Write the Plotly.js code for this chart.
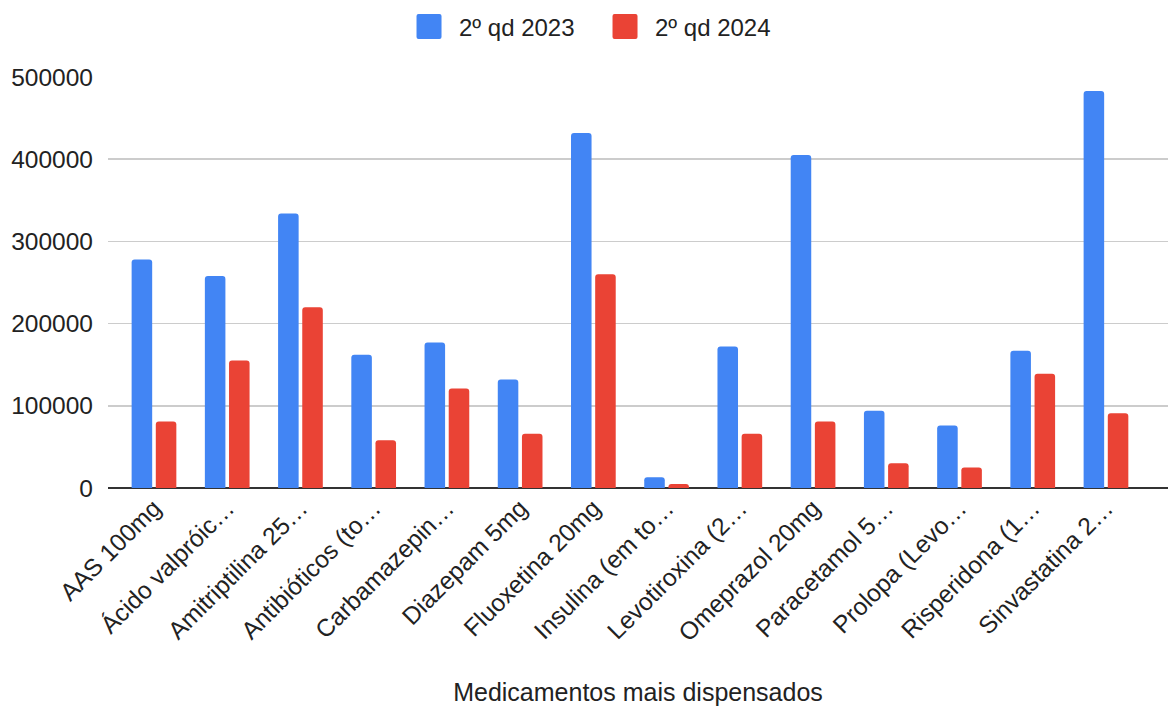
<!DOCTYPE html>
<html>
<head>
<meta charset="utf-8">
<script src="https://cdn.plot.ly/plotly-3.0.1.min.js"></script>
<style>html,body{margin:0;padding:0;background:#fff;}#chart{width:1169px;height:706px;}</style>
</head>
<body>
<div id="chart"></div>
<script>
const categories = [
  "AAS 100mg", "Ácido valpróic…", "Amitriptilina 25…", "Antibióticos (to…",
  "Carbamazepin…", "Diazepam 5mg", "Fluoxetina 20mg", "Insulina (em to…",
  "Levotiroxina (2…", "Omeprazol 20mg", "Paracetamol 5…", "Prolopa (Levo…",
  "Risperidona (1…", "Sinvastatina 2…"
];
const series2023Name = "2º qd 2023";
const series2024Name = "2º qd 2024";
const values2023 = [278000, 258000, 334000, 162000, 177000, 132000, 432000, 13000, 172000, 405000, 94000, 76000, 167000, 483000];
const values2024 = [81000, 155000, 220000, 58000, 121000, 66000, 260000, 5000, 66000, 81000, 30000, 25000, 139000, 91000];
const yTicks = [0, 100000, 200000, 300000, 400000, 500000];

const font = "Arial, 'Liberation Sans', sans-serif";
const data = [
  {type: "bar", name: series2023Name, x: categories, y: values2023,
   marker: {color: "#4285F4", cornerradius: 3}},
  {type: "bar", name: series2024Name, x: categories, y: values2024,
   marker: {color: "#EA4335", cornerradius: 3}}
];
const layout = {
  width: 1169, height: 706,
  margin: {l: 108, r: 1, t: 77, b: 218},
  paper_bgcolor: "#fff", plot_bgcolor: "#fff",
  font: {family: font, size: 24, color: "#222"},
  barmode: "group", bargap: 0.34, bargroupgap: 0.15,
  showlegend: true,
  legend: {orientation: "h", xref: "container", x: 0.509, xanchor: "center",
           yref: "container", y: 0.962, yanchor: "middle",
           font: {size: 24, color: "#222"}, itemwidth: 50, tracegroupgap: 0,
           entrywidth: 131, entrywidthmode: "pixels"},
  xaxis: {
    type: "category", range: [-0.628, 13.847],
    tickangle: -45, ticks: "", showgrid: false, automargin: false,
    tickfont: {size: 24.5, color: "#222"},
    title: {text: "Medicamentos mais dispensados", font: {size: 25, color: "#222"}, standoff: 40}
  },
  yaxis: {
    range: [0, 500000], tickvals: yTicks, ticktext: yTicks.map(String),
    showgrid: true, gridcolor: "#cccccc", gridwidth: 1.5,
    zeroline: true, zerolinecolor: "#333", zerolinewidth: 2,
    ticks: "", ticklabelstandoff: 14, automargin: false,
    tickfont: {size: 24.5, color: "#222"}
  }
};
Plotly.newPlot("chart", data, layout, {displayModeBar: false, staticPlot: true}).then(function (gd) {
  // enlarge the legend swatches to match the reference's large squares
  gd.querySelectorAll(".legend .legendpoints path").forEach(function (p) {
    p.setAttribute("d", "M12.5,10.5Q12.5,12.5 10.5,12.5H-10.5Q-12.5,12.5 -12.5,10.5V-10.5Q-12.5,-12.5 -10.5,-12.5H10.5Q12.5,-12.5 12.5,-10.5Z");
  });
});
</script>
</body>
</html>
